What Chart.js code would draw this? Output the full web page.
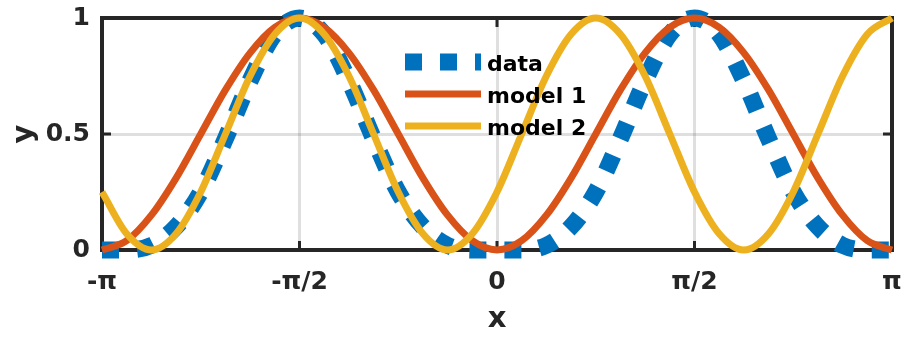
<!DOCTYPE html>
<html>
<head>
<meta charset="utf-8">
<script src="https://cdn.jsdelivr.net/npm/chart.js@4.4.1/dist/chart.umd.min.js"></script>
<style>
  body { margin: 0; background: #fff; }
  canvas { display: block; }
</style>
</head>
<body>
<canvas id="grafico" width="901" height="338"></canvas>
<script>
// x em unidades de pi (-1 = -pi, 1 = pi)
const xPi = [-1, -0.9375, -0.875, -0.8125, -0.75, -0.6875, -0.625, -0.5625, -0.5,
  -0.4375, -0.375, -0.3125, -0.25, -0.1875, -0.125, -0.0625, 0,
  0.0625, 0.125, 0.1875, 0.25, 0.3125, 0.375, 0.4375, 0.5,
  0.5625, 0.625, 0.6875, 0.75, 0.8125, 0.875, 0.9375, 1];

const dataY = [0, 0.00, 0.02, 0.10, 0.25, 0.48, 0.73, 0.93, 1, 0.93, 0.73, 0.48, 0.25, 0.10, 0.02, 0.00, 0,
  0.00, 0.02, 0.10, 0.25, 0.48, 0.73, 0.93, 1, 0.93, 0.73, 0.48, 0.25, 0.10, 0.02, 0.00, 0];
const model1Y = [0, 0.04, 0.15, 0.31, 0.5, 0.69, 0.85, 0.96, 1, 0.96, 0.85, 0.69, 0.5, 0.31, 0.15, 0.04, 0,
  0.04, 0.15, 0.31, 0.5, 0.69, 0.85, 0.96, 1, 0.96, 0.85, 0.69, 0.5, 0.31, 0.15, 0.04, 0];
const model2Y = [0.25, 0.07, 0, 0.07, 0.25, 0.5, 0.75, 0.93, 1, 0.93, 0.75, 0.5, 0.25, 0.07, 0, 0.07, 0.25,
  0.5, 0.75, 0.93, 1, 0.93, 0.75, 0.5, 0.25, 0.07, 0, 0.07, 0.25, 0.5, 0.75, 0.93, 1];

const nomes = ['data', 'model 1', 'model 2'];
const xTicks = [-1, -0.5, 0, 0.5, 1];
const xTickLabels = ['-π', '-π/2', '0', 'π/2', 'π'];
const yTicks = [0, 0.5, 1];
const yTickLabels = ['0', '0.5', '1'];

const eixo = '#262626';
const pontos = ys => ys.map((v, i) => ({ x: xPi[i], y: v }));

// caixa do eixo (topo/direita) e marcas para dentro
const caixa = {
  id: 'caixa',
  beforeDatasetsDraw(chart) {
    const { ctx, chartArea: a, scales: { x, y } } = chart;
    ctx.save();
    ctx.strokeStyle = eixo;
    ctx.lineWidth = 4;
    ctx.beginPath();
    ctx.moveTo(a.left, a.top);
    ctx.lineTo(a.right, a.top);
    ctx.lineTo(a.right, a.bottom);
    ctx.stroke();
    ctx.lineWidth = 3;
    ctx.beginPath();
    const t = 9;
    xTicks.forEach(v => {
      const px = x.getPixelForValue(v);
      ctx.moveTo(px, a.bottom); ctx.lineTo(px, a.bottom - t);
      ctx.moveTo(px, a.top); ctx.lineTo(px, a.top + t);
    });
    yTicks.forEach(v => {
      const py = y.getPixelForValue(v);
      ctx.moveTo(a.left, py); ctx.lineTo(a.left + t, py);
      ctx.moveTo(a.right, py); ctx.lineTo(a.right - t, py);
    });
    ctx.stroke();
    ctx.restore();
  }
};

// legenda sem caixa, dentro do grafico
const legenda = {
  id: 'legenda',
  afterDatasetsDraw(chart) {
    const ctx = chart.ctx;
    ctx.save();
    chart.data.datasets.forEach((ds, i) => {
      const yy = 62 + i * 32;
      ctx.beginPath();
      ctx.strokeStyle = ds.borderColor;
      ctx.lineWidth = ds.borderWidth;
      ctx.lineCap = 'butt';
      ctx.setLineDash(ds.borderDash || []);
      ctx.moveTo(405, yy);
      ctx.lineTo(481, yy);
      ctx.stroke();
      ctx.setLineDash([]);
      ctx.fillStyle = '#000';
      ctx.font = 'bold 22px "DejaVu Sans"';
      ctx.textBaseline = 'alphabetic';
      ctx.textAlign = 'left';
      ctx.fillText(ds.label, 487, yy + 9);
    });
    ctx.restore();
  }
};

Chart.defaults.font.family = '"DejaVu Sans", sans-serif';

const ctx = document.getElementById('grafico').getContext('2d');
new Chart(ctx, {
  type: 'line',
  data: {
    datasets: [
      {
        label: nomes[0],
        data: pontos(dataY),
        borderColor: '#0072BD',
        borderWidth: 17,
        borderDash: [17, 18],
        borderCapStyle: 'butt',
        order: 3
      },
      {
        label: nomes[1],
        data: pontos(model1Y),
        borderColor: '#D95319',
        borderWidth: 7,
        order: 2
      },
      {
        label: nomes[2],
        data: pontos(model2Y),
        borderColor: '#EDB120',
        borderWidth: 7,
        order: 1
      }
    ]
  },
  options: {
    responsive: false,
    animation: false,
    events: [],
    layout: { padding: { top: 18, right: 9, left: 0, bottom: 0 } },
    elements: {
      point: { radius: 0 },
      line: { cubicInterpolationMode: 'monotone', fill: false }
    },
    datasets: { line: { clip: false } },
    plugins: {
      legend: { display: false },
      tooltip: { enabled: false }
    },
    scales: {
      x: {
        type: 'linear',
        min: -1,
        max: 1,
        afterBuildTicks: s => { s.ticks = xTicks.map(v => ({ value: v })); },
        afterFit: s => { s.height = 88; s.paddingLeft = 0; s.paddingRight = 0; },
        ticks: {
          autoSkip: false,
          maxRotation: 0,
          padding: 17,
          color: eixo,
          font: { size: 25, weight: 'bold' },
          callback: (v, i) => xTickLabels[i]
        },
        grid: { color: 'rgba(38,38,38,0.15)', lineWidth: 3, drawTicks: false },
        border: { display: true, color: eixo, width: 4 },
        title: {
          display: true,
          text: 'x',
          color: eixo,
          font: { size: 29, weight: 'bold' },
          padding: { top: 0, bottom: 1 }
        }
      },
      y: {
        min: 0,
        max: 1,
        afterBuildTicks: s => { s.ticks = yTicks.map(v => ({ value: v })); },
        afterFit: s => { s.width = 102; s.paddingTop = 0; s.paddingBottom = 0; },
        ticks: {
          padding: 12,
          color: eixo,
          font: { size: 25, weight: 'bold' },
          callback: (v, i) => yTickLabels[i]
        },
        grid: { color: 'rgba(38,38,38,0.15)', lineWidth: 3, drawTicks: false },
        border: { display: true, color: eixo, width: 4 },
        title: {
          display: true,
          text: 'y',
          color: eixo,
          font: { size: 29, weight: 'bold' },
          padding: { top: 7, bottom: 0 }
        }
      }
    }
  },
  plugins: [caixa, legenda]
});
</script>
</body>
</html>
